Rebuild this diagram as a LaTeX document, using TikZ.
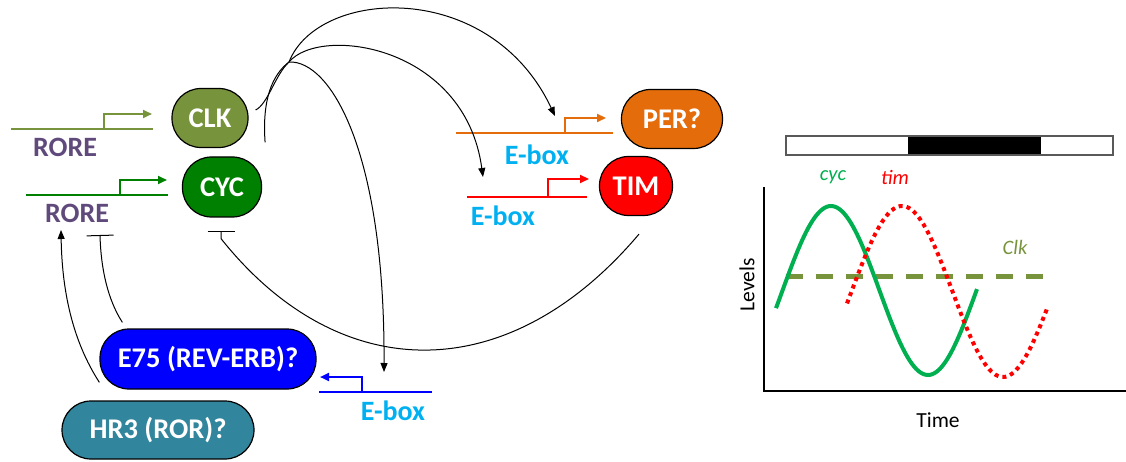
\documentclass[tikz,border=0pt]{standalone}
\usepackage{fontspec}
\setmainfont{Carlito}
\usetikzlibrary{arrows.meta}

\definecolor{clkcol}{RGB}{119,147,60}
\definecolor{cyccol}{RGB}{0,128,0}
\definecolor{percol}{RGB}{228,108,10}
\definecolor{timcol}{RGB}{255,0,0}
\definecolor{e75col}{RGB}{0,0,255}
\definecolor{hr3col}{RGB}{49,133,156}
\definecolor{rorecol}{RGB}{96,74,123}
\definecolor{eboxcol}{RGB}{0,176,240}
\definecolor{wavecol}{RGB}{0,176,80}

\begin{document}
\begin{tikzpicture}[x=1pt, y=-1pt,
  prot/.style={draw=black, line width=1.2pt, rounded corners=29pt, text=white,
    font=\bfseries\fontsize{28.5}{32}\selectfont, minimum height=59pt, inner sep=0pt},
  gene/.style={line width=2.2pt},
  tss/.style={line width=2.2pt, -{Triangle[length=9pt,width=8pt]}},
  site/.style={font=\bfseries\fontsize{28}{32}\selectfont},
  ar/.style={-{Triangle[length=9pt,width=7pt]}, line width=1pt},
  inh/.style={-{Bar[width=27pt]}, line width=1pt},
  lab/.style={font=\fontsize{21.5}{25}\selectfont},
  curvelab/.style={font=\itshape\fontsize{20.5}{24}\selectfont}
]
\useasboundingbox (0,0) rectangle (1126,462);

% proteins
\node[prot, fill=clkcol, minimum width=76pt] (clk) at (210,118) {CLK};
\node[prot, fill=cyccol, minimum width=79pt, minimum height=60pt] (cyc) at (222,187) {CYC};
\node[prot, fill=percol, minimum width=101pt] (per) at (672,119) {PER?};
\node[prot, fill=timcol, minimum width=73pt] (tim) at (636,186) {TIM};
\node[prot, fill=e75col, minimum width=216pt, minimum height=60pt] (e75) at (208,359) {E75 (REV-ERB)?};
\node[prot, fill=hr3col, minimum width=192pt, minimum height=58pt] (hr3) at (158,430) {HR3 (ROR)?};

% genes and promoters
\draw[gene, clkcol] (11,129) -- (153,129);
\draw[tss, clkcol] (104,129) |- (152,114);
\node[site, text=rorecol] (rore1) at (65,147) {RORE};
\draw[gene, cyccol] (26,195) -- (168,195);
\draw[tss, cyccol] (120,195) |- (167,180);
\node[site, text=rorecol] (rore2) at (77,213) {RORE};
\draw[gene, percol] (456,133) -- (613,133);
\draw[tss, percol] (565,133) |- (606,118);
\node[site, text=eboxcol] (ebox1) at (537,155) {E-box};
\draw[gene, timcol] (467,197) -- (587,197);
\draw[tss, timcol] (548,197) |- (589,179);
\node[site, text=eboxcol] (ebox2) at (503,216) {E-box};
\draw[gene, e75col] (319,392) -- (432,392);
\draw[tss, e75col] (362,392) |- (320,377);
\node[site, text=eboxcol] (ebox3) at (393,411) {E-box};

% targets
\coordinate (hub) at (289,62);
\coordinate (perbox) at (555,116);
\coordinate (timbox) at (483,177);
\coordinate (e75box) at (384,372);
\coordinate (rorebar) at (100,235);
\coordinate (rorearr) at (61,230);
\coordinate (cycbar) at ([shift={(-1,13)}]cyc.south);

% connectors
\draw[line width=1pt] ([shift={(7,-8)}]clk.east) .. controls (268,104) and (275,75) .. (hub);
\draw[line width=1pt] ([shift={(3,-14)}]cyc.north east) .. controls (262,100) and (272,75) .. (hub);
\draw[ar] (hub) .. controls (318,-12) and (490,-22) .. (perbox);
\draw[ar] (hub) .. controls (320,25) and (465,45) .. (timbox);
\draw[ar] (hub) .. controls (330,60) and (385,150) .. (e75box);
\draw[inh] ([shift={(3,18)}]tim.south) .. controls (509,388) and (340,388) .. ([yshift=-8]cycbar) -- (cycbar);
\draw[inh] ([shift={(23,-6)}]e75.north west) .. controls (108,300) and (101,270) .. (rorebar);
\draw[ar] ([shift={(38,-18)}]hr3.north west) .. controls (72,340) and (62,290) .. (rorearr);

% levels plot
\fill (908,136) rectangle (1041,155);
\draw[black!65, line width=1.2pt] (786,136) rectangle (1113,155);
\draw[line width=2.5pt] (764,187) -- (764,391) -- (1126,391);
\draw[clkcol, line width=5pt, dash pattern=on 17pt off 13pt] (786,276) -- (1045,276);
\draw[wavecol, line width=4pt] plot[domain=776:977, samples=100]
  (\x, {290.5-84.5*sin((\x-782.5)*1.8557)});
\draw[timcol, line width=4pt, dash pattern=on 4pt off 4pt] plot[domain=847:1048, samples=100]
  (\x, {291.5-85.5*sin((\x-851.5)*1.7822)});
\node[curvelab, text=wavecol] (cyclab) at (833,177) {cyc};
\node[curvelab, text=timcol] (timlab) at (895,177) {tim};
\node[curvelab, text=clkcol] (clklab) at (1015,247) {Clk};
\node[lab, rotate=90] (levels) at (747,285) {Levels};
\node[lab] (time) at (938,420) {Time};
\end{tikzpicture}
\end{document}
